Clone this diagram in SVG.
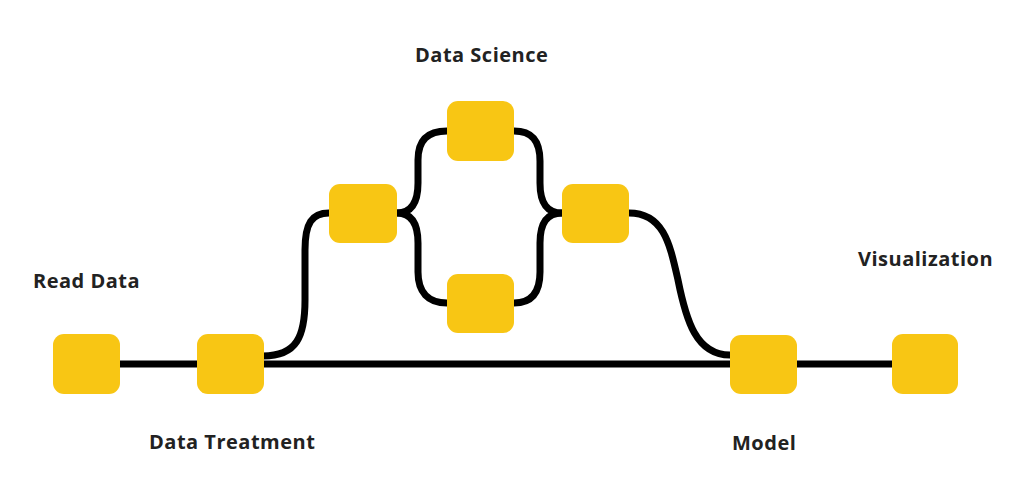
<svg xmlns="http://www.w3.org/2000/svg" width="1024" height="494" viewBox="0 0 1024 494">
<style>
.node{fill:#F8C614;}
.conn{fill:none;stroke:#000;stroke-width:7;stroke-linecap:round;stroke-linejoin:round;}
.lbl{font-family:"Open Sans","Liberation Sans",sans-serif;font-weight:700;font-size:20px;letter-spacing:0.5px;fill:#222;}
</style>
<rect width="1024" height="494" fill="#fff"/>
<g id="connectors">
<line class="conn" x1="120" y1="364" x2="892" y2="364"/>
<path class="conn" d="M263,356 C297,356 305,336 305,300 L305,250 C305,223 312,213 329,213"/>
<path class="conn" d="M397,213 C411,213 418,203 418,183 L418,160 C418,140 428,131 447,131"/>
<path class="conn" d="M397,213 C411,213 418,223 418,243 L418,272 C418,292 428,303 447,303"/>
<path class="conn" d="M514,131 C532,131 540,141 540,161 L540,183 C540,203 547,213 562,213"/>
<path class="conn" d="M514,303 C532,303 540,292 540,272 L540,243 C540,223 547,213 562,213"/>
<path class="conn" d="M629,213 C664,213 670,245 678,280 C686,320 696,355 730,355"/>
</g>
<g id="read-data">
<rect class="node" x="53" y="334" width="67" height="60" rx="11"/>
<text class="lbl" x="33" y="288">Read Data</text>
</g>
<g id="data-treatment">
<rect class="node" x="197" y="334" width="67" height="60" rx="11"/>
<text class="lbl" x="149" y="449">Data Treatment</text>
</g>
<g id="ds-entry">
<rect class="node" x="329" y="184" width="68" height="59" rx="11"/>
</g>
<g id="ds-top">
<rect class="node" x="447" y="101" width="67" height="60" rx="11"/>
<text class="lbl" x="415" y="62">Data Science</text>
</g>
<g id="ds-bottom">
<rect class="node" x="447" y="274" width="67" height="59" rx="11"/>
</g>
<g id="ds-exit">
<rect class="node" x="562" y="184" width="67" height="59" rx="11"/>
</g>
<g id="model">
<rect class="node" x="730" y="335" width="67" height="59" rx="11"/>
<text class="lbl" x="732" y="450">Model</text>
</g>
<g id="visualization">
<rect class="node" x="892" y="334" width="66" height="60" rx="11"/>
<text class="lbl" x="858" y="266">Visualization</text>
</g>
</svg>
